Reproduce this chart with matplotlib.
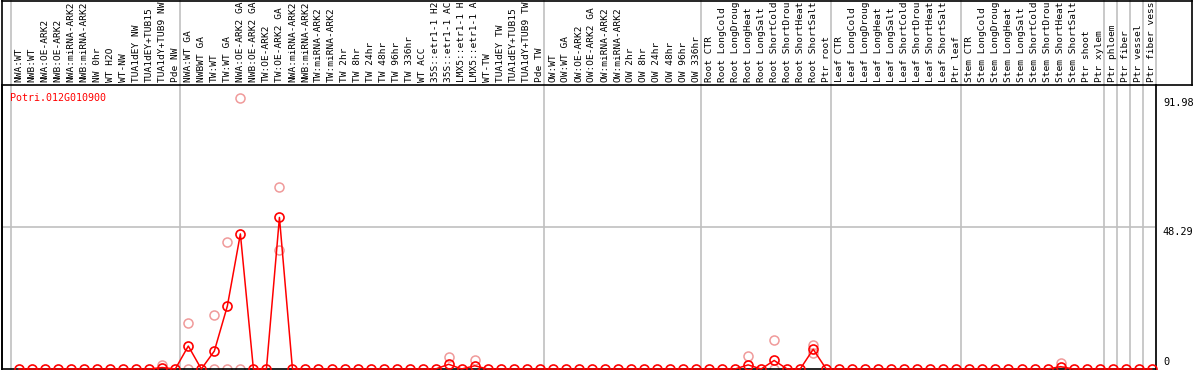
import matplotlib
matplotlib.use("Agg")
import matplotlib.pyplot as plt
from matplotlib.lines import Line2D
from matplotlib.transforms import blended_transform_factory

GENE = "Potri.012G010900"

# sample labels, one list per block of the header (as far as they are visible)
GROUP_NW = ["NWA:WT", "NWB:WT", "NWA:OE-ARK2", "NWB:OE-ARK2", "NWA:miRNA-ARK2",
            "NWB:miRNA-ARK2", "NW 0hr", "WT H2O", "WT-NW", "TUA1dEY NW",
            "TUA1dEY+TUB15", "TUA1dY+TUB9 NW", "Pde NW"]
GROUP_TW = ["NWA:WT GA", "NWBWT GA", "TW:WT", "TW:WT GA", "NWA:OE-ARK2 GA",
            "NWB:OE-ARK2 GA", "TW:OE-ARK2", "TW:OE-ARK2 GA", "NWA:miRNA-ARK2",
            "NWB:miRNA-ARK2", "TW:miRNA-ARK2", "TW:miRNA-ARK2", "TW 2hr", "TW 8hr",
            "TW 24hr", "TW 48hr", "TW 96hr", "TW 336hr", "WT ACC",
            "35S::etr1-1 H2", "35S::etr1-1 AC", "LMX5::etr1-1 H",
            "LMX5::etr1-1 A", "WT-TW", "TUA1dEY TW", "TUA1dEY+TUB15",
            "TUA1dY+TUB9 TW", "Pde TW"]
GROUP_OW = ["OW:WT", "OW:WT GA", "OW:OE-ARK2", "OW:OE-ARK2 GA", "OW:miRNA-ARK2",
            "OW:miRNA-ARK2", "OW 2hr", "OW 8hr", "OW 24hr", "OW 48hr", "OW 96hr",
            "OW 336hr"]
GROUP_ROOT = ["Root CTR", "Root LongCold", "Root LongDroug", "Root LongHeat",
              "Root LongSalt", "Root ShortCold", "Root ShortDrou", "Root ShortHeat",
              "Root ShortSalt", "Ptr root"]
GROUP_LEAF = ["Leaf CTR", "Leaf LongCold", "Leaf LongDroug", "Leaf LongHeat",
              "Leaf LongSalt", "Leaf ShortCold", "Leaf ShortDrou", "Leaf ShortHeat",
              "Leaf ShortSalt", "Ptr leaf"]
GROUP_STEM = ["Stem CTR", "Stem LongCold", "Stem LongDroug", "Stem LongHeat",
              "Stem LongSalt", "Stem ShortCold", "Stem ShortDrou", "Stem ShortHeat",
              "Stem ShortSalt", "Ptr shoot", "Ptr xylem"]
GROUP_PTR = [["Ptr phloem"], ["Ptr fiber"], ["Ptr vessel"], ["Ptr fiber vess"]]

# mean expression per sample (dark red line)
MEAN_NW = [0, 0, 0, 0, 0, 0, 0, 0, 0, 0, 0, 0.5, 0]
MEAN_TW = [7.8, 0, 6.1, 21.4, 45.9, 0, 0, 51.5, 0, 0, 0, 0, 0, 0,
           0, 0, 0, 0, 0, 0, 1.6, 0, 1.1, 0, 0, 0, 0, 0]
MEAN_OW = [0] * 12
MEAN_ROOT = [0, 0, 0, 1.4, 0, 2.9, 0, 0, 6.7, 0]
MEAN_LEAF = [0] * 10
MEAN_STEM = [0, 0, 0, 0, 0, 0, 0, 0.8, 0, 0, 0]
MEAN_PTR = [0, 0, 0, 0]

# individual replicates (light circles): sample index and value
REP_IDX = [11, 13, 13, 15, 15, 16, 16, 17, 17, 20, 20, 33, 35, 56, 58, 58, 61, 61, 80]
REP_VAL = [1.5, 15.5, 0, 18.3, 0, 43.1, 0, 91.98, 0, 61.8, 40.4, 4.2, 3.2, 4.4,
           9.9, 0, 8.1, 5.6, 1.9]

Y_TICKS = [91.98, 48.29, 0]

groups = [GROUP_NW, GROUP_TW, GROUP_OW, GROUP_ROOT, GROUP_LEAF, GROUP_STEM] + GROUP_PTR
labels = [lab for g in groups for lab in g]
means = MEAN_NW + MEAN_TW + MEAN_OW + MEAN_ROOT + MEAN_LEAF + MEAN_STEM + MEAN_PTR
xs = list(range(len(labels)))

W, H = 1194, 370
fig = plt.figure(figsize=(W / 100, H / 100), dpi=100, facecolor="white")
left, right, top, bottom = 2, 1156, 85, 369
ax = fig.add_axes([left / W, (H - bottom) / H, (right - left) / W, (bottom - top) / H])
ax.set_xlim(-1.31, 87.33)
ax.set_ylim(0, 96.5)
ax.set_xticks([])
ax.set_yticks([])
for s in ax.spines.values():
    s.set_color("black")
    s.set_linewidth(1.2)

mono = "DejaVu Sans Mono"
red = "#FF0000"
pink = "#F09A9A"

# separators between sample blocks, running up through the header
sep_ylim = bottom / (bottom - top)
k = 0
for g in [[]] + groups:
    k += len(g)
    ax.axvline(k - 0.65, ymin=0, ymax=sep_ylim, color="#C0C0C0", lw=1.2,
               clip_on=False, zorder=0)
ax.axhline(48.29, color="#C0C0C0", lw=1.2, zorder=0)

ax.plot(REP_IDX, REP_VAL, ls="none", marker="o", ms=6.5, mfc="none", mec=pink,
        mew=1.1, clip_on=False, zorder=2)
ax.plot(xs, means, color=red, lw=1.1, marker="o", ms=6.5, mfc="none", mec=red,
        mew=1.2, clip_on=False, zorder=3)

# header labels
hdr = blended_transform_factory(ax.transData, ax.transAxes)
for x, lab in zip(xs, labels):
    ax.text(x, 1.01, lab, rotation=90, ha="center", va="bottom", fontsize=6.8,
            family=mono, transform=hdr, clip_on=False)

ax.text(0.0065, 0.955, GENE, transform=ax.transAxes, ha="left", va="center",
        fontsize=7.2, family=mono, color=red)

ytr = blended_transform_factory(ax.transAxes, ax.transData)
for v in Y_TICKS:
    ax.text(1.006, v if v else 0.8, f"{v:g}", transform=ytr, ha="left",
            va="top" if v else "bottom", fontsize=7.4, family=mono, clip_on=False)

# header frame
for xd, yd in [([left, 1192], [0.5, 0.5]), ([1192, 1192], [0, top]),
               ([left, left], [0, H]), ([right, 1192], [top, top])]:
    fig.add_artist(Line2D([x / W for x in xd], [1 - y / H for y in yd],
                          color="black", lw=1.2))

fig.savefig("out.png", dpi=100)
